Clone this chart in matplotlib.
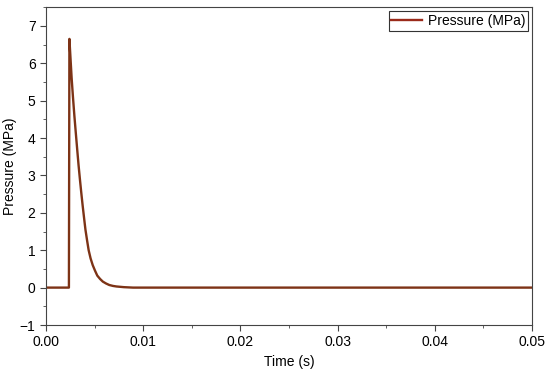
import numpy as np
import matplotlib.pyplot as plt
from matplotlib.ticker import MultipleLocator

plt.rcParams['font.family'] = ['Liberation Sans', 'DejaVu Sans']

# pressure pulse
time_s = [0.0, 0.00236, 0.00241, 0.00253, 0.00264, 0.00278, 0.00292, 0.00307,
          0.00321, 0.00335, 0.00349, 0.00363, 0.00377, 0.00392, 0.00406,
          0.00423, 0.00439, 0.00459, 0.00481, 0.00505, 0.00528, 0.00557,
          0.00585, 0.00618, 0.00651, 0.00689, 0.00726, 0.00802, 0.00896,
          0.0200, 0.0300, 0.0400, 0.0500]
pressure_mpa = [0.0, 0.0, 6.65, 6.10, 5.60, 5.08, 4.60, 4.13,
                3.70, 3.28, 2.90, 2.54, 2.20, 1.86, 1.55,
                1.26, 1.00, 0.78, 0.60, 0.45, 0.32, 0.23,
                0.16, 0.11, 0.07, 0.045, 0.03, 0.012, 0.0,
                0.0, 0.0, 0.0, 0.0]

fig = plt.figure(figsize=(5.5, 3.74), dpi=100)
ax = fig.add_axes([0.0836, 0.131, 0.8836, 0.85])

ax.plot(time_s, pressure_mpa, color='#7d3316', lw=1.7, label='Pressure (MPa)')

ax.set_xlim(0, 0.05)
ax.set_ylim(-1, 7.5)
ax.xaxis.set_major_locator(MultipleLocator(0.01))
ax.xaxis.set_minor_locator(MultipleLocator(0.005))
ax.yaxis.set_major_locator(MultipleLocator(1))
ax.yaxis.set_minor_locator(MultipleLocator(0.5))
ax.xaxis.set_major_formatter(plt.FormatStrFormatter('%.2f'))
ax.tick_params(which='both', direction='out', labelsize=10, color='#444444')
ax.tick_params(which='major', length=4)
ax.tick_params(which='minor', length=2.5)
for s in ax.spines.values():
    s.set_color('#444444')
    s.set_linewidth(0.8)

ax.set_xlabel('Time (s)', fontsize=10)
ax.set_ylabel('Pressure (MPa)', fontsize=10, labelpad=2)

leg = ax.legend(loc='upper right', fontsize=10, fancybox=False, framealpha=1,
                borderaxespad=0.3, borderpad=0.2, handlelength=2.2,
                handletextpad=0.4)
leg.get_frame().set_edgecolor('#333333')
leg.get_frame().set_linewidth(0.8)
leg.get_lines()[0].set_color('#9a2a1a')

fig.savefig('out.png', dpi=100)
